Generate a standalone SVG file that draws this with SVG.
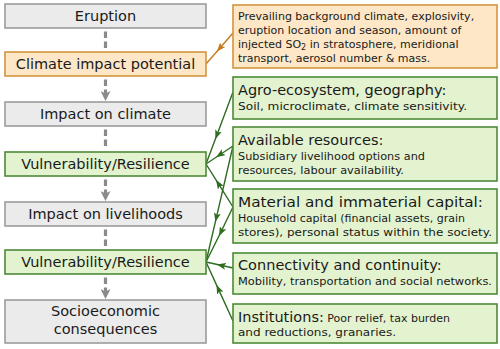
<svg xmlns="http://www.w3.org/2000/svg" width="500" height="349" viewBox="0 0 500 349">
<defs>
<style>
text{font-family:"DejaVu Sans",Verdana,sans-serif;fill:#1a1a1a}
.lbl{font-size:14.5px;text-anchor:middle}
.ttl{font-size:14.5px}
.sub{font-size:11px}
.gbox{fill:#ebebeb;stroke:#9c9c9c;stroke-width:1.6}
.obox{fill:#fde7c6;stroke:#d3953f;stroke-width:1.6}
.grbox{fill:#e3f3cf;stroke:#4d8a39;stroke-width:1.6}
.dash{stroke:#8a8a8a;stroke-width:3.2;stroke-dasharray:6.5 3.5;fill:none}
.gl{stroke:#2e6d20;stroke-width:1.4;fill:none;marker-mid:url(#ga)}
.ol{stroke:#c27a22;stroke-width:1.4;fill:none;marker-mid:url(#oa)}
</style>
<marker id="da" markerUnits="userSpaceOnUse" markerWidth="10" markerHeight="10" viewBox="0 0 10 10" refX="5" refY="5" orient="auto"><path d="M0,0 L10,5 L0,10 L2.5,5 Z" fill="#8a8a8a"/></marker>
<marker id="ga" markerUnits="userSpaceOnUse" markerWidth="9" markerHeight="7" viewBox="0 0 9 7" refX="5" refY="3.5" orient="auto"><path d="M0,0 L9,3.5 L0,7 L2,3.5 Z" fill="#2e6d20"/></marker>
<marker id="oa" markerUnits="userSpaceOnUse" markerWidth="9" markerHeight="7" viewBox="0 0 9 7" refX="5" refY="3.5" orient="auto"><path d="M0,0 L9,3.5 L0,7 L2,3.5 Z" fill="#c27a22"/></marker>
</defs>

<g id="connectors">
<path class="dash" d="M105.5,31.5 V48.5"/>
<path class="dash" d="M105.5,79.5 V96" marker-end="url(#da)"/>
<path class="dash" d="M105.5,129.5 V148.5"/>
<path class="dash" d="M105.5,179.5 V196" marker-end="url(#da)"/>
<path class="dash" d="M105.5,229.5 V246.5"/>
<path class="dash" d="M105.5,277.5 V294" marker-end="url(#da)"/>
<path class="ol" d="M233,33 L219.5,48.5 L206,64"/>
<path class="gl" d="M233,92 L216.8,135.2 L206,164"/>
<path class="gl" d="M233,146 L219.5,155 L206,164"/>
<path class="gl" d="M233,207 L218.2,183.4 L206,164"/>
<path class="gl" d="M233,146 L216.3,217.9 L206,262"/>
<path class="gl" d="M233,207 L220.8,232.3 L206,262"/>
<path class="gl" d="M233,268 L220.8,265.3 L206,262"/>
<path class="gl" d="M233,321 L218.2,288.6 L206,262"/>
</g>

<g id="eruption"><rect class="gbox" x="5" y="4" width="201" height="24"/><text class="lbl" x="105.5" y="21">Eruption</text></g>
<g id="climate-impact-potential"><rect class="obox" x="5" y="52" width="201" height="24"/><text class="lbl" x="105.5" y="69">Climate impact potential</text></g>
<g id="impact-on-climate"><rect class="gbox" x="5" y="102" width="201" height="24"/><text class="lbl" x="105.5" y="119">Impact on climate</text></g>
<g id="vulnerability-1"><rect class="grbox" x="5" y="152" width="201" height="24"/><text class="lbl" x="105.5" y="169">Vulnerability/Resilience</text></g>
<g id="impact-on-livelihoods"><rect class="gbox" x="5" y="202" width="201" height="24"/><text class="lbl" x="105.5" y="219">Impact on livelihoods</text></g>
<g id="vulnerability-2"><rect class="grbox" x="5" y="250" width="201" height="24"/><text class="lbl" x="105.5" y="267">Vulnerability/Resilience</text></g>
<g id="socioeconomic"><rect class="gbox" x="5" y="300" width="201" height="43"/><text class="lbl" x="105.5" y="316">Socioeconomic</text><text class="lbl" x="105.5" y="334">consequences</text></g>

<g id="climate-factors"><rect class="obox" x="233" y="5" width="264" height="63"/>
<text class="sub" x="238" y="20">Prevailing background climate, explosivity,</text>
<text class="sub" x="238" y="34">eruption location and season, amount of</text>
<text class="sub" x="238" y="48">injected SO<tspan font-size="8" dy="2">2</tspan><tspan dy="-2"> in stratosphere, meridional</tspan></text>
<text class="sub" x="238" y="62">transport, aerosol number &amp; mass.</text></g>

<g id="agro-ecosystem"><rect class="grbox" x="233" y="77" width="264" height="42"/>
<text class="ttl" x="238" y="95">Agro-ecosystem, geography:</text>
<text class="sub" x="238" y="110" textLength="229" lengthAdjust="spacingAndGlyphs">Soil, microclimate, climate sensitivity.</text></g>

<g id="available-resources"><rect class="grbox" x="233" y="127" width="264" height="54"/>
<text class="ttl" x="238" y="145">Available resources:</text>
<text class="sub" x="238" y="160" textLength="187" lengthAdjust="spacingAndGlyphs">Subsidiary livelihood options and</text>
<text class="sub" x="238" y="174" textLength="166" lengthAdjust="spacingAndGlyphs">resources, labour availability.</text></g>

<g id="capital"><rect class="grbox" x="233" y="189" width="264" height="54"/>
<text class="ttl" x="238" y="207" textLength="245" lengthAdjust="spacingAndGlyphs">Material and immaterial capital:</text>
<text class="sub" x="238" y="222" textLength="227" lengthAdjust="spacingAndGlyphs">Household capital (financial assets, grain</text>
<text class="sub" x="238" y="236" textLength="254" lengthAdjust="spacingAndGlyphs">stores), personal status within the society.</text></g>

<g id="connectivity"><rect class="grbox" x="233" y="253" width="264" height="41"/>
<text class="ttl" x="238" y="270">Connectivity and continuity:</text>
<text class="sub" x="238" y="285" textLength="254" lengthAdjust="spacingAndGlyphs">Mobility, transportation and social networks.</text></g>

<g id="institutions"><rect class="grbox" x="233" y="304" width="264" height="39"/>
<text x="238" y="322"><tspan class="ttl">Institutions:</tspan><tspan class="sub"> Poor relief, tax burden</tspan></text>
<text class="sub" x="238" y="336" textLength="158" lengthAdjust="spacingAndGlyphs">and reductions, granaries.</text></g>
</svg>
